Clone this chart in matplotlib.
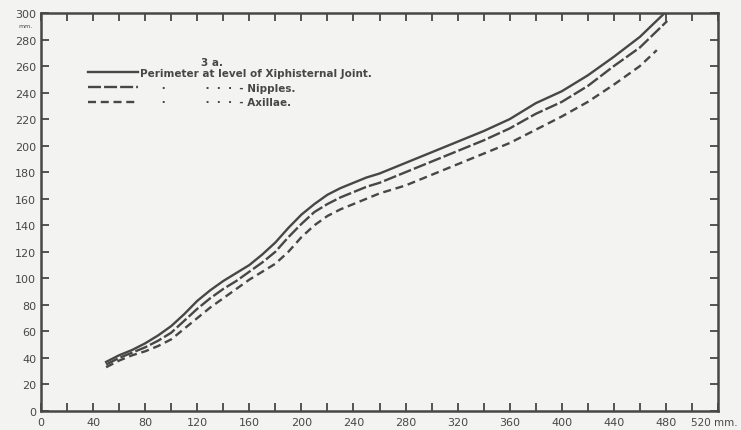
import matplotlib
matplotlib.use("Agg")
import matplotlib.pyplot as plt
from matplotlib.transforms import ScaledTranslation

x_xiph = [50, 60, 70, 80, 90, 100, 110, 120, 130, 140, 150, 160, 170, 180, 190, 200,
          210, 220, 230, 240, 250, 260, 280, 300, 320, 340, 360, 380, 400, 420, 440, 460, 478]
y_xiph = [37, 42, 46, 51, 57, 64, 73, 83, 91, 98, 104, 110, 118, 127, 138, 148,
          156, 163, 168, 172, 176, 179, 187, 195, 203, 211, 220, 232, 241, 253, 267, 282, 299]

x_nipp = [50, 60, 70, 80, 90, 100, 110, 120, 130, 140, 150, 160, 170, 180, 190, 200,
          210, 220, 230, 240, 250, 260, 280, 300, 320, 340, 360, 380, 400, 420, 440, 460, 481]
y_nipp = [35, 40, 44, 48, 53, 59, 68, 77, 85, 92, 98, 105, 112, 120, 131, 141,
          150, 156, 161, 165, 169, 172, 180, 188, 196, 204, 213, 224, 233, 245, 260, 274, 294]

x_axil = [50, 60, 70, 80, 90, 100, 110, 120, 130, 140, 150, 160, 170, 180, 190, 200,
          210, 220, 230, 240, 250, 260, 280, 300, 320, 340, 360, 380, 400, 420, 440, 460, 473]
y_axil = [33, 38, 42, 45, 49, 54, 62, 70, 78, 85, 92, 99, 105, 111, 120, 131,
          140, 147, 152, 156, 160, 164, 170, 178, 186, 194, 202, 212, 222, 233, 246, 260, 272]

labels = ["Perimeter at level of Xiphisternal Joint.",
          "      \u00b7           \u00b7  \u00b7  \u00b7  - Nipples.",
          "      \u00b7           \u00b7  \u00b7  \u00b7  - Axillae."]

x_ticks = list(range(0, 521, 40))
x_ticklabels = [str(v) for v in x_ticks[:-1]] + ["520 mm."]
y_ticks = list(range(0, 301, 20))

ink = "#474747"
paper = "#f3f3f1"

fig = plt.figure(figsize=(7.41, 4.31), dpi=100, facecolor=paper)
ax = fig.add_axes([41 / 741, 1 - 412 / 431, 677 / 741, 398 / 431], facecolor=paper)

lw = 1.7
l1, = ax.plot(x_xiph, y_xiph, color=ink, lw=lw, solid_joinstyle="round")
l2, = ax.plot(x_nipp, y_nipp, color=ink, lw=lw, dashes=(5.5, 1.3))
l3, = ax.plot(x_axil, y_axil, color=ink, lw=lw, dashes=(3.4, 2.0))

ax.set_xlim(0, 520)
ax.set_ylim(0, 300)

ax.set_xticks(x_ticks)
ax.set_xticklabels(x_ticklabels)
ax.set_xticks(range(20, 520, 40), minor=True)
ax.set_yticks(y_ticks)

for side in ax.spines.values():
    side.set_color(ink)
    side.set_linewidth(1.8)

ax.tick_params(which="both", direction="in", length=6, width=1.3, color=ink,
               top=True, right=True, labelsize=8, labelcolor=ink, pad=3.5)
ax.tick_params(axis="x", which="both", pad=4)

# last x label ("520 mm.") sits against the right edge in the plate
last = ax.get_xticklabels()[-1]
last.set_fontsize(7.5)
last.set_transform(last.get_transform() + ScaledTranslation(-3 / 72, 0, fig.dpi_scale_trans))

ax.text(-0.012, 0.975, "mm.", transform=ax.transAxes, fontsize=4.5,
        color=ink, ha="right", va="top")

ax.text((212 - 41) / 677, 1 - (61 - 12) / 398, "3 a.",
        transform=ax.transAxes, fontsize=7.5, fontweight="bold",
        color=ink, ha="center", va="center")

leg = ax.legend([l1, l2, l3], labels, loc="upper left",
                bbox_to_anchor=(88 / 741, 1 - 69 / 431), bbox_transform=fig.transFigure,
                frameon=False, prop={"size": 7.5, "weight": "bold"},
                handlelength=4.8, handletextpad=0.2,
                labelspacing=0.45, borderpad=0, borderaxespad=0)
for t in leg.get_texts():
    t.set_color(ink)

fig.savefig("out.png", dpi=100, facecolor=paper)
